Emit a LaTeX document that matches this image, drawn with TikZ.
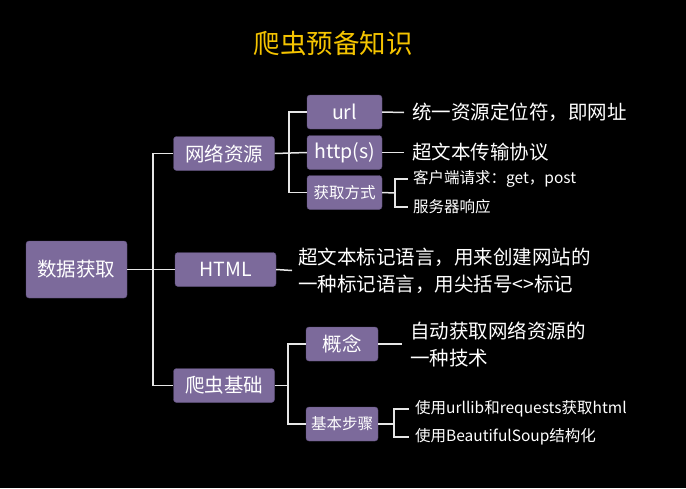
\documentclass[tikz,border=0pt]{standalone}
\usepackage{fontspec}
\setmainfont{Noto Sans CJK SC}
\usepackage{xcolor}
\definecolor{boxpurple}{HTML}{7C6A9B}
\definecolor{boxedge}{HTML}{5E4F7A}
\definecolor{titlegold}{HTML}{F5C400}
\definecolor{linkgray}{HTML}{E6E6E6}

\begin{document}
\begin{tikzpicture}[x=1pt,y=-1pt,
		box/.style={draw=boxedge,fill=boxpurple,rounded corners=3pt,text=white,inner sep=0pt,font=\fontsize{19.5}{22}\selectfont},
		bigbox/.style={box,minimum width=101pt,minimum height=34pt},
		subbox/.style={box,minimum width=75pt,minimum height=34pt},
		small/.style={font=\fontsize{15.5}{18}\selectfont},
		desc/.style={anchor=west,text=white,inner sep=0pt,align=left,font=\fontsize{19.5}{27}\selectfont},
		link/.style={draw=linkgray,line width=1.5pt}]

		\fill[black] (0,0) rectangle (686,488);
		\useasboundingbox (0,0) rectangle (686,488);

		\node (title) at (333,43) [text=titlegold,font=\fontsize{26.5}{30}\selectfont] {爬虫预备知识};

		\node (root) at (76.5,269.5) [box,minimum width=101pt,minimum height=57pt] {数据获取};

		\node (net) at (224,153.5) [bigbox] {网络资源};
		\node (html) at (225.5,269.5) [bigbox] {HTML};
		\node (spider) at (224,385.5) [bigbox] {爬虫基础};

		\node (url) at (344.5,112) [subbox] {url};
		\node (http) at (344.5,152.5) [subbox] {http(s)};
		\node (fetch) at (344.5,192.5) [subbox,small] {获取方式};

		\node (idea) at (342,344) [box,minimum width=72pt,minimum height=34pt] {概念};
		\node (steps) at (342,424) [box,small,minimum width=72pt,minimum height=34pt] {基本步骤};

		% descriptions
		\node (urltxt) at (412,112.5) [desc] {统一资源定位符，即网址};
		\node (httptxt) at (412,152.5) [desc] {超文本传输协议};
		\node (client) at (413,179) [desc,small] {客户端请求：get，post};
		\node (server) at (413,207) [desc,small] {服务器响应};
		\node (htmltxt) at (298,270.5) [desc] {超文本标记语言，用来创建网站的\\一种标记语言，用尖括号<>标记};
		\node (ideatxt) at (410,344) [desc] {自动获取网络资源的\\一种技术};
		\node (step1) at (415,409) [desc,small] {使用urllib和requests获取html};
		\node (step2) at (415,437) [desc,small] {使用BeautifulSoup结构化};

		\coordinate (j1) at (153,269.5);
		\coordinate (j2) at (289,153);
		\coordinate (j3) at (395,193);
		\coordinate (j4) at (288,385.5);
		\coordinate (j5) at (394,424);

		\draw[link] (root.east) -- (html.west);
		\draw[link] (net.west) -| (j1) |- (spider.west);

		\draw[link] (net.east) -- (http.west);
		\draw[link] (url.west) -| (j2) |- (fetch.west);

		\draw[link] (fetch.east) -- (j3);
		\draw[link] ([xshift=-5pt]client.west) -| (j3) |- ([xshift=-5pt]server.west);

		\draw[link] (spider.east) -- (j4);
		\draw[link] (idea.west) -| (j4) |- (steps.west);

		\draw[link] (steps.east) -- (j5);
		\draw[link] ([xshift=-6pt]step1.west) -| (j5) |- ([xshift=-6pt]step2.west);

		\draw[link] (url.east) -- ([xshift=-8pt]urltxt.west);
		\draw[link] (http.east) -- ([xshift=-8pt]httptxt.west);
		\draw[link] (html.east) -- ([xshift=-6pt]htmltxt.west);
		\draw[link] (idea.east) -- ([xshift=-8pt]ideatxt.west);

	\end{tikzpicture}
\end{document}
